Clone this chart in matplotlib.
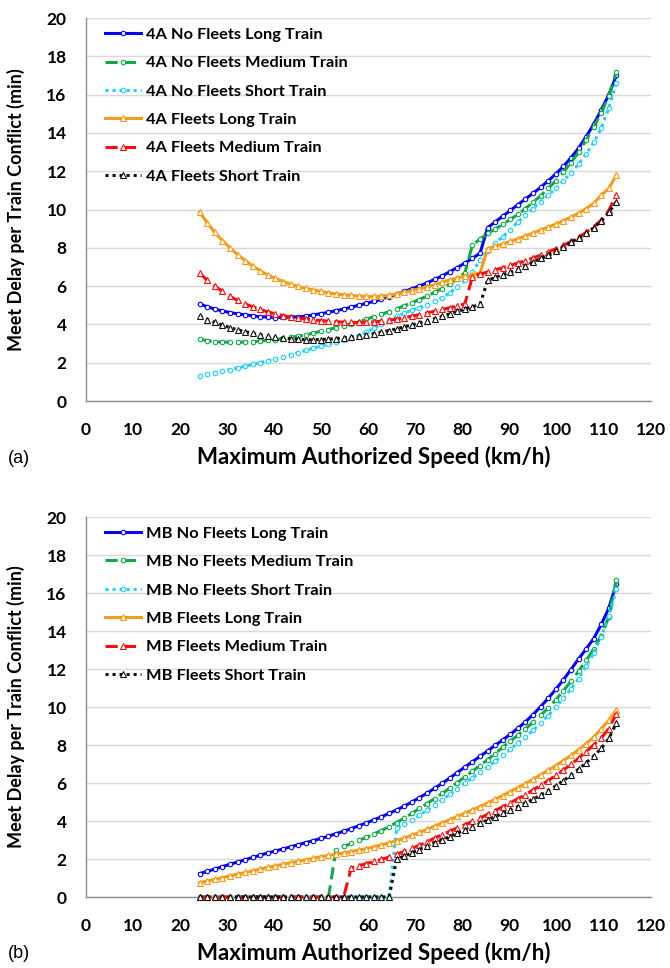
#!/usr/bin/env python3
"""
Meet delay per train conflict vs. maximum authorized speed,
(a) 4A signalling and (b) moving block, six fleet/train-length cases each.

Run:  python3 plot.py   ->  out.png
"""

import matplotlib
matplotlib.use("Agg")
import matplotlib.pyplot as plt

# ============================== DATA ==========================================
# speed grid: 15..70 mph in 1 mph steps, in km/h
SPEED_KMH = [24.14, 25.75, 27.36, 28.97, 30.58, 32.19, 33.80, 35.41, 37.01, 38.62,
             40.23, 41.84, 43.45, 45.06, 46.67, 48.28, 49.89, 51.50, 53.11, 54.72,
             56.33, 57.94, 59.55, 61.16, 62.76, 64.37, 65.98, 67.59, 69.20, 70.81,
             72.42, 74.03, 75.64, 77.25, 78.86, 80.47, 82.08, 83.69, 85.30, 86.90,
             88.51, 90.12, 91.73, 93.34, 94.95, 96.56, 98.17, 99.78, 101.39, 103.00,
             104.61, 106.22, 107.83, 109.44, 111.04, 112.65]

# panel (a): 4A
A_NF_LONG = [5.07, 4.92, 4.80, 4.70, 4.62, 4.55, 4.50, 4.45, 4.40, 4.38,
             4.36, 4.37, 4.38, 4.40, 4.43, 4.50, 4.56, 4.63, 4.72, 4.80,
             4.90, 5.00, 5.10, 5.20, 5.32, 5.45, 5.58, 5.72, 5.86, 6.00,
             6.17, 6.35, 6.53, 6.75, 6.97, 7.20, 7.45, 7.72, 9.05, 9.35,
             9.65, 9.95, 10.25, 10.55, 10.85, 11.15, 11.50, 11.85, 12.25, 12.70,
             13.20, 13.80, 14.45, 15.20, 16.00, 17.00]
A_NF_MED = [3.24, 3.15, 3.10, 3.08, 3.07, 3.07, 3.08, 3.10, 3.13, 3.17,
            3.21, 3.26, 3.32, 3.38, 3.46, 3.55, 3.64, 3.73, 3.83, 3.93,
            4.04, 4.15, 4.27, 4.40, 4.53, 4.67, 4.82, 4.97, 5.13, 5.30,
            5.48, 5.67, 5.87, 6.10, 6.38, 6.70, 8.15, 8.45, 8.75, 8.98,
            9.22, 9.48, 9.75, 10.05, 10.38, 10.72, 11.10, 11.50, 11.95, 12.45,
            13.00, 13.62, 14.30, 15.05, 15.95, 17.20]
A_NF_SHORT = [1.32, 1.40, 1.48, 1.56, 1.64, 1.73, 1.82, 1.91, 2.00, 2.10,
              2.19, 2.29, 2.41, 2.53, 2.65, 2.76, 2.86, 2.96, 3.06, 3.16,
              3.27, 3.42, 3.60, 3.80, 4.02, 4.25, 4.42, 4.58, 4.74, 4.88,
              5.02, 5.20, 5.40, 5.65, 5.95, 6.30, 6.75, 7.35, 7.85, 8.25,
              8.58, 8.95, 9.35, 9.70, 10.05, 10.40, 10.75, 11.10, 11.50, 11.90,
              12.38, 12.90, 13.50, 14.25, 15.30, 16.60]
A_F_LONG = [9.85, 9.30, 8.80, 8.38, 8.00, 7.65, 7.33, 7.05, 6.80, 6.58,
            6.40, 6.24, 6.10, 5.98, 5.88, 5.80, 5.72, 5.65, 5.59, 5.55,
            5.51, 5.48, 5.46, 5.46, 5.48, 5.52, 5.60, 5.68, 5.77, 5.86,
            5.96, 6.07, 6.20, 6.32, 6.43, 6.52, 6.60, 6.68, 7.95, 8.07,
            8.20, 8.33, 8.47, 8.62, 8.77, 8.93, 9.08, 9.24, 9.42, 9.60,
            9.80, 10.05, 10.32, 10.75, 11.10, 11.80]
A_F_MED = [6.68, 6.30, 6.00, 5.72, 5.47, 5.25, 5.07, 4.92, 4.78, 4.65,
           4.55, 4.46, 4.38, 4.33, 4.28, 4.24, 4.20, 4.17, 4.14, 4.12,
           4.10, 4.10, 4.11, 4.13, 4.17, 4.22, 4.28, 4.35, 4.43, 4.51,
           4.60, 4.69, 4.78, 4.87, 4.96, 5.08, 6.50, 6.62, 6.74, 6.85,
           6.96, 7.08, 7.20, 7.33, 7.47, 7.62, 7.78, 7.95, 8.13, 8.33,
           8.55, 8.80, 9.10, 9.45, 9.95, 10.76]
A_F_SHORT = [4.44, 4.25, 4.10, 3.96, 3.83, 3.72, 3.62, 3.53, 3.45, 3.38,
             3.32, 3.28, 3.25, 3.22, 3.20, 3.20, 3.21, 3.23, 3.26, 3.30,
             3.34, 3.39, 3.45, 3.52, 3.60, 3.68, 3.77, 3.87, 3.97, 4.08,
             4.19, 4.30, 4.42, 4.55, 4.68, 4.80, 4.92, 5.05, 6.30, 6.45,
             6.60, 6.72, 6.87, 7.05, 7.25, 7.45, 7.65, 7.85, 8.05, 8.28,
             8.50, 8.75, 9.05, 9.40, 9.85, 10.40]

# panel (b): MB
B_NF_LONG = [1.23, 1.35, 1.47, 1.60, 1.72, 1.84, 1.96, 2.08, 2.20, 2.32,
             2.42, 2.53, 2.64, 2.75, 2.86, 2.97, 3.08, 3.20, 3.33, 3.46,
             3.60, 3.75, 3.90, 4.06, 4.22, 4.40, 4.58, 4.78, 5.00, 5.23,
             5.46, 5.72, 5.98, 6.26, 6.55, 6.84, 7.12, 7.40, 7.69, 7.98,
             8.27, 8.56, 8.88, 9.22, 9.60, 10.02, 10.46, 10.93, 11.43, 11.97,
             12.53, 13.05, 13.60, 14.35, 15.20, 16.50]
B_NF_MED = [0.0, 0.0, 0.0, 0.0, 0.0, 0.0, 0.0, 0.0, 0.0, 0.0,
            0.0, 0.0, 0.0, 0.0, 0.0, 0.0, 0.0, 0.0, 2.50, 2.66,
            2.82, 2.98, 3.14, 3.32, 3.50, 3.70, 3.92, 4.15, 4.40, 4.66,
            4.92, 5.18, 5.45, 5.73, 6.02, 6.32, 6.62, 6.92, 7.23, 7.55,
            7.88, 8.20, 8.52, 8.85, 9.20, 9.56, 9.95, 10.38, 10.85, 11.35,
            11.88, 12.45, 13.05, 13.75, 14.75, 16.70]
B_NF_SHORT = [0.0, 0.0, 0.0, 0.0, 0.0, 0.0, 0.0, 0.0, 0.0, 0.0,
              0.0, 0.0, 0.0, 0.0, 0.0, 0.0, 0.0, 0.0, 0.0, 0.0,
              0.0, 0.0, 0.0, 0.0, 0.0, 0.0, 3.62, 3.82, 4.05, 4.30,
              4.57, 4.86, 5.12, 5.40, 5.68, 6.00, 6.28, 6.56, 6.85, 7.15,
              7.46, 7.78, 8.10, 8.43, 8.78, 9.15, 9.55, 9.99, 10.45, 10.95,
              11.48, 12.15, 12.85, 13.70, 14.80, 16.20]
B_F_LONG = [0.75, 0.84, 0.93, 1.02, 1.11, 1.20, 1.29, 1.38, 1.47, 1.56,
            1.64, 1.72, 1.80, 1.88, 1.96, 2.04, 2.12, 2.19, 2.25, 2.32,
            2.39, 2.47, 2.55, 2.64, 2.74, 2.85, 2.97, 3.10, 3.25, 3.40,
            3.56, 3.73, 3.90, 4.07, 4.24, 4.41, 4.58, 4.76, 4.95, 5.14,
            5.34, 5.55, 5.76, 5.97, 6.20, 6.43, 6.67, 6.92, 7.18, 7.45,
            7.75, 8.07, 8.42, 8.85, 9.30, 9.85]
B_F_MED = [0.0, 0.0, 0.0, 0.0, 0.0, 0.0, 0.0, 0.0, 0.0, 0.0,
           0.0, 0.0, 0.0, 0.0, 0.0, 0.0, 0.0, 0.0, 0.0, 0.0,
           1.53, 1.65, 1.76, 1.87, 1.98, 2.10, 2.25, 2.40, 2.56, 2.72,
           2.90, 3.10, 3.28, 3.46, 3.64, 3.80, 3.98, 4.16, 4.35, 4.55,
           4.75, 4.96, 5.17, 5.39, 5.63, 5.88, 6.13, 6.40, 6.68, 6.98,
           7.30, 7.65, 8.00, 8.38, 8.85, 9.65]
B_F_SHORT = [0.0, 0.0, 0.0, 0.0, 0.0, 0.0, 0.0, 0.0, 0.0, 0.0,
             0.0, 0.0, 0.0, 0.0, 0.0, 0.0, 0.0, 0.0, 0.0, 0.0,
             0.0, 0.0, 0.0, 0.0, 0.0, 0.0, 2.00, 2.15, 2.32, 2.50,
             2.66, 2.84, 3.00, 3.18, 3.36, 3.52, 3.70, 3.87, 4.05, 4.23,
             4.40, 4.58, 4.76, 4.95, 5.15, 5.36, 5.60, 5.85, 6.12, 6.42,
             6.73, 7.06, 7.42, 7.82, 8.35, 9.15]

CASES = ["No Fleets Long Train", "No Fleets Medium Train", "No Fleets Short Train",
         "Fleets Long Train", "Fleets Medium Train", "Fleets Short Train"]

X_TICKS = [0, 10, 20, 30, 40, 50, 60, 70, 80, 90, 100, 110, 120]
Y_TICKS = [0, 2, 4, 6, 8, 10, 12, 14, 16, 18, 20]

# ============================== STYLE =========================================
FONT = ["Lato", "DejaVu Sans"]
TAG_FONT = ["Liberation Sans", "DejaVu Sans"]
COLORS = ["#0505ee", "#12a84a", "#1fcff5", "#f59b1a", "#f01010", "#111111"]
LSTYLES = ["-", (0, (4, 2)), (0, (1, 1.3)), "-", (0, (4, 2)), (0, (1, 1.3))]
MARKERS = ["o", "o", "o", "^", "^", "^"]
LW = 2.2
GRID_COLOR = "#d9d9d9"
SPINE_COLOR = "#8c8c8c"
XLABEL = "Maximum Authorized Speed (km/h)"
YLABEL = "Meet Delay per Train Conflict (min)"

W, H = 670, 968


def draw_panel(ax, series, prefix, tag):
    for i, ys in enumerate(series):
        ms = 3.2 if MARKERS[i] == "o" else 4.0
        ax.plot(SPEED_KMH, ys, color=COLORS[i], ls=LSTYLES[i], lw=LW,
                marker=MARKERS[i], ms=ms, mfc="white", mec=COLORS[i], mew=0.8,
                label=f"{prefix} {CASES[i]}", clip_on=False, zorder=3 + i)

    ax.set_xlim(0, 120)
    ax.set_ylim(0, 20)
    ax.set_xticks(X_TICKS)
    ax.set_yticks(Y_TICKS)
    ax.tick_params(length=0, labelsize=12.5)
    ax.tick_params(axis="y", pad=14)
    ax.tick_params(axis="x", pad=15)
    for lab in ax.get_xticklabels() + ax.get_yticklabels():
        lab.set_fontweight("bold")
    ax.grid(axis="y", color=GRID_COLOR, lw=1)
    ax.set_axisbelow(True)
    for s in ("top", "right"):
        ax.spines[s].set_visible(False)
    for s in ("left", "bottom"):
        ax.spines[s].set_color(SPINE_COLOR)
        ax.spines[s].set_linewidth(1.0)

    ax.set_xlabel(XLABEL, fontsize=16, fontweight="bold")
    ax.xaxis.set_label_coords(0.51, -0.118)
    ax.set_ylabel(YLABEL, fontsize=13, fontweight="bold")
    ax.yaxis.set_label_coords(-0.108, 0.5)

    ax.legend(loc="upper left", bbox_to_anchor=(0.028, 0.984), frameon=False,
              prop={"weight": "bold", "size": 11.8},
              handlelength=2.2, handletextpad=0.3, labelspacing=0.85,
              borderaxespad=0, borderpad=0.2)

    ax.text(-0.138, -0.149, tag, transform=ax.transAxes, fontsize=13,
            family=TAG_FONT, ha="left", va="center")


def main():
    plt.rcParams["font.family"] = FONT
    fig = plt.figure(figsize=(W / 100, H / 100), dpi=100)

    left, width = 86 / W, (651 - 86) / W
    ax_a = fig.add_axes([left, (H - 401) / H, width, 383 / H])
    ax_b = fig.add_axes([left, (H - 897) / H, width, 380 / H])

    draw_panel(ax_a, [A_NF_LONG, A_NF_MED, A_NF_SHORT, A_F_LONG, A_F_MED, A_F_SHORT],
               "4A", "(a)")
    draw_panel(ax_b, [B_NF_LONG, B_NF_MED, B_NF_SHORT, B_F_LONG, B_F_MED, B_F_SHORT],
               "MB", "(b)")

    fig.savefig("out.png", dpi=100)


if __name__ == "__main__":
    main()
